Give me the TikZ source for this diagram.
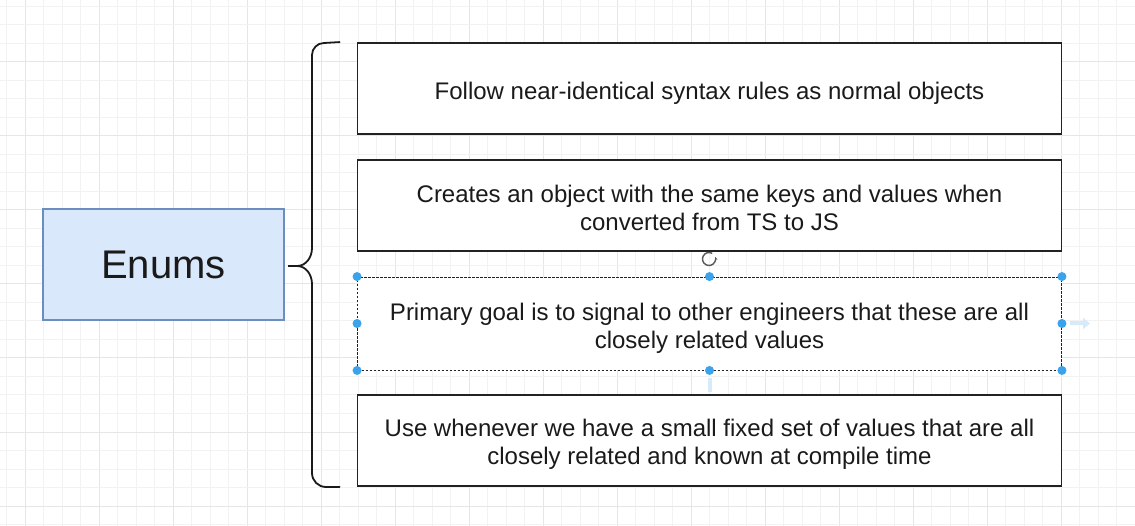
\documentclass[tikz,border=0pt]{standalone}
\usepackage{fontspec}
\setmainfont{Liberation Sans}
\usetikzlibrary{arrows.meta,calc}
\definecolor{gridminor}{HTML}{F2F2F2}
\definecolor{gridmajor}{HTML}{E6E6E6}
\definecolor{enumfill}{HTML}{DAE8FC}
\definecolor{enumline}{HTML}{6C8EBF}
\definecolor{ink}{HTML}{1A1A1A}
\definecolor{boxline}{HTML}{222222}
\definecolor{handle}{HTML}{3AA3EC}
\definecolor{faint}{HTML}{D6EBFA}
\tikzset{
  itembox/.style={draw=boxline, line width=1.8pt, fill=white, minimum width=704pt, minimum height=91pt,
    inner sep=0pt},
  selbox/.style={itembox, draw=boxline, line width=0.9pt, dash pattern=on 2.5pt off 1.5pt, minimum height=93pt},
  boxtext/.style={inner sep=0pt, align=center, text=ink, font=\fontsize{24}{28}\selectfont},
  enumbox/.style={draw=enumline, line width=1.2pt, fill=enumfill, minimum width=241pt, minimum height=111pt,
    inner sep=0pt, text=ink, font=\fontsize{40}{48}\selectfont},
  bracestyle/.style={draw=ink, line width=1.8pt, line cap=round},
  handledot/.style={circle, fill=handle, inner sep=0pt, minimum size=9pt},
}
\begin{document}
\begin{tikzpicture}[x=1pt,y=-1pt]
\useasboundingbox (0,0) rectangle (1135,526);
\fill[white] (0,0) rectangle (1135,526);
% grid
\foreach \i in {0,...,61}{
  \pgfmathtruncatemacro{\m}{mod(\i,4)}
  \ifnum\m=1
    \draw[gridmajor, line width=1pt] ({6.5+18.5*\i},0) -- ({6.5+18.5*\i},526);
  \else
    \draw[gridminor, line width=1pt] ({6.5+18.5*\i},0) -- ({6.5+18.5*\i},526);
  \fi
}
\foreach \j in {0,...,28}{
  \pgfmathtruncatemacro{\m}{mod(\j,4)}
  \ifnum\m=3
    \draw[gridmajor, line width=1pt] (0,{6.5+18.5*\j}) -- (1135,{6.5+18.5*\j});
  \else
    \draw[gridminor, line width=1pt] (0,{6.5+18.5*\j}) -- (1135,{6.5+18.5*\j});
  \fi
}
% Enums box
\node[enumbox] (enums) at (163.5,264.5) {Enums};
% items
\node[itembox] (b1) at (709.5,88.5) {};
\node[itembox] (b2) at (709.5,205.5) {};
\node[selbox] (b3) at (709.5,323.5) {};
\node[itembox] (b4) at (709.5,440.5) {};
\node[boxtext] (t1) at ($(b1.center)+(0,4.5)$) {Follow near-identical syntax rules as normal objects};
\node[boxtext] (t2) at ($(b2.center)+(0,2)$) {Creates an object with the same keys and values when\\converted from TS to JS};
\node[boxtext] (t3) at ($(b3.center)+(0,5)$) {Primary goal is to signal to other engineers that these are all\\closely related values};
\node[boxtext] (t4) at ($(b4.center)+(0,4)$) {Use whenever we have a small fixed set of values that are all\\closely related and known at compile time};
% brace
\coordinate (tip) at (288,266);
\draw[bracestyle] ($(b1.north west)+(-17,0)$) -- (324,43) to[out=180,in=90] (312,55) -- (312,248)
  to[out=-90,in=0] (297,266) -- (tip) -- (297,266) to[out=0,in=90] (312,284) -- (312,473)
  to[out=-90,in=180] (326,487) -- ($(b4.south west)+(-17,0)$);
% selection handles
\foreach \p in {north west,north,north east,west,east,south west,south,south east}
  \node[handledot] at (b3.\p) {};
% rotate icon
\coordinate (rot) at (709,259);
\draw[gray!70!black, line width=1.4pt, -{Stealth[length=3.5pt]}] (rot) ++(-60:6.5) arc[start angle=-60, end angle=-380, radius=6.5];
% faint connection arrows
\draw[faint, line width=4pt, -{Triangle[length=7pt,width=11pt]}] (1070,323.5) -- (1090,323.5);
\draw[faint, line width=4pt] (709.5,378) -- (709.5,392);
\end{tikzpicture}
\end{document}
